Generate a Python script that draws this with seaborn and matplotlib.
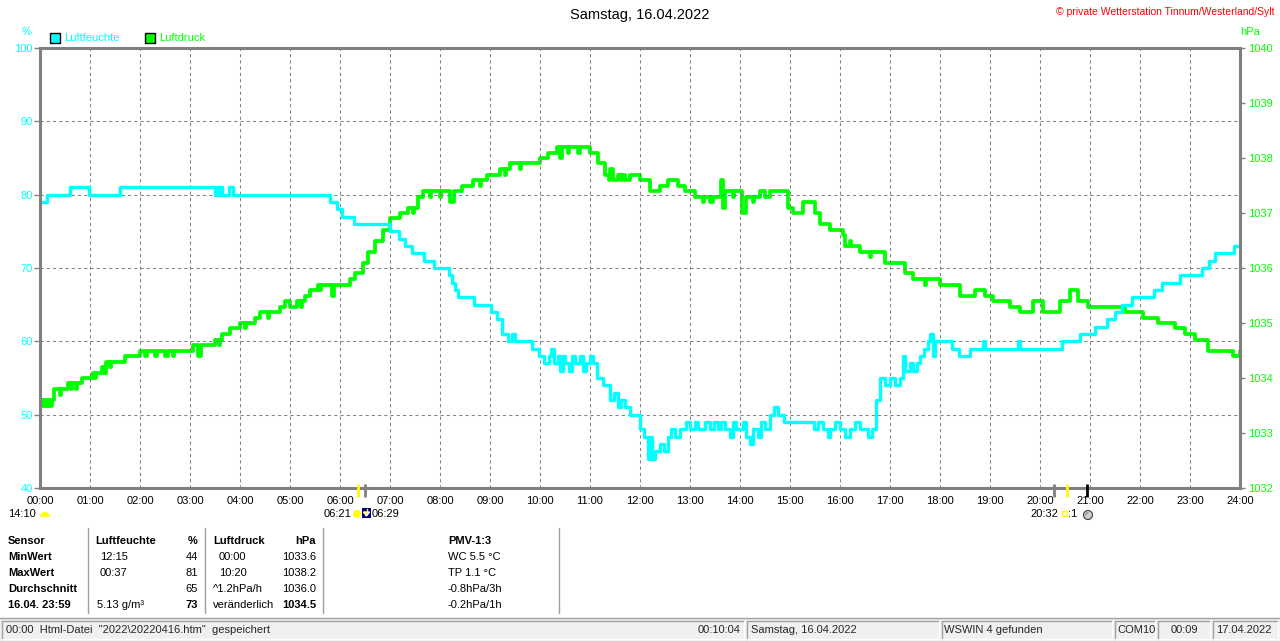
import numpy as np
import pandas as pd
import matplotlib
matplotlib.use("Agg")
import matplotlib.pyplot as plt
import matplotlib.patches as mpatches
import seaborn as sns

# ---------------- data ----------------
hour_ticks = list(range(0, 25))
hour_labels = [f"{h:02d}:00" for h in hour_ticks]
hum_ticks = [40, 50, 60, 70, 80, 90, 100]
pres_ticks = [1032, 1033, 1034, 1035, 1036, 1037, 1038, 1039, 1040]

# Luftfeuchte (%), time in hours
hum_t = [0.00, 0.13, 0.60, 0.97, 1.60, 3.50, 3.53, 3.57, 3.60, 3.63, 3.77, 3.85,
         5.80, 5.93, 6.03, 6.27, 7.00, 7.17, 7.30, 7.43, 7.67, 7.87, 8.17, 8.23,
         8.30, 8.37, 8.67, 9.03, 9.13, 9.23, 9.37, 9.43, 9.50, 9.83, 9.97, 10.07,
         10.17, 10.22, 10.27, 10.35, 10.40, 10.45, 10.50, 10.58, 10.63, 10.70, 10.80,
         10.85, 10.92, 11.00, 11.05, 11.13, 11.26, 11.40, 11.48, 11.55, 11.62, 11.70,
         11.80, 12.00, 12.08, 12.15, 12.20, 12.24, 12.30, 12.40, 12.48, 12.55, 12.62,
         12.70, 12.80, 12.92, 13.00, 13.10, 13.15, 13.30, 13.40, 13.48, 13.55, 13.62,
         13.70, 13.80, 13.85, 13.92, 14.05, 14.12, 14.20, 14.26, 14.35, 14.42, 14.50,
         14.60, 14.68, 14.75, 14.87, 15.47, 15.55, 15.65, 15.75, 15.80, 15.90, 16.00,
         16.10, 16.20, 16.30, 16.40, 16.55, 16.65, 16.72, 16.80, 16.90, 17.00, 17.10,
         17.20, 17.25, 17.30, 17.40, 17.45, 17.53, 17.60, 17.68, 17.75, 17.80, 17.85,
         17.90, 18.23, 18.37, 18.60, 18.85, 18.90, 19.55, 19.60, 20.43, 20.80, 21.10,
         21.33, 21.50, 21.63, 21.83, 22.27, 22.43, 22.80, 23.23, 23.37, 23.50, 23.87,
         23.99]
hum_v = [79, 80, 81, 80, 81, 80, 81, 80, 81, 80, 81, 80,
         79, 78, 77, 76, 75, 74, 73, 72, 71, 70, 69, 68,
         67, 66, 65, 64, 63, 61, 60, 61, 60, 59, 58, 57,
         58, 59, 57, 58, 56, 58, 57, 56, 58, 57, 58,
         56, 57, 58, 57, 55, 54, 52, 53, 51, 52, 51,
         50, 48, 47, 44, 47, 44, 45, 46, 45, 47, 48,
         47, 48, 49, 48, 49, 48, 49, 48, 49, 48, 49,
         48, 47, 49, 48, 49, 47, 46, 48, 47, 49, 48,
         50, 51, 50, 49, 48, 49, 48, 47, 48, 49, 48,
         47, 48, 49, 48, 47, 48, 52, 55, 54, 55, 54,
         55, 58, 56, 57, 56, 57, 58, 59, 60, 61, 58,
         60, 59, 58, 59, 60, 59, 60, 59, 60, 61, 62,
         63, 64, 65, 66, 67, 68, 69, 70, 71, 72, 73,
         73]

# Luftdruck (hPa), time in hours
pres_t = [0.00, 0.06, 0.08, 0.12, 0.16, 0.20, 0.24, 0.28, 0.40, 0.42, 0.55, 0.62,
          0.64, 0.72, 0.74, 0.84, 1.05, 1.10, 1.12, 1.24, 1.28, 1.32, 1.40, 1.42,
          1.70, 2.00, 2.10, 2.14, 2.30, 2.33, 2.50, 2.56, 2.66, 2.68, 3.06, 3.16,
          3.22, 3.50, 3.58, 3.60, 3.64, 3.80, 4.00, 4.10, 4.12, 4.30, 4.40, 4.55,
          4.57, 4.80, 4.90, 5.00, 5.14, 5.22, 5.24, 5.30, 5.40, 5.56, 5.60, 5.62,
          5.84, 5.88, 6.20, 6.30, 6.45, 6.55, 6.70, 6.85, 7.00, 7.20, 7.35, 7.45,
          7.47, 7.55, 7.65, 7.80, 7.82, 8.00, 8.02, 8.20, 8.28, 8.45, 8.65, 8.80,
          8.82, 8.95, 9.20, 9.30, 9.32, 9.40, 9.60, 9.62, 10.00, 10.15, 10.33, 10.40,
          10.43, 10.55, 10.57, 10.75, 10.80, 11.00, 11.15, 11.30, 11.38, 11.40, 11.45,
          11.55, 11.62, 11.64, 11.70, 11.80, 12.00, 12.20, 12.40, 12.55, 12.75, 12.90,
          13.10, 13.25, 13.27, 13.40, 13.45, 13.62, 13.66, 13.70, 13.85, 13.87, 14.04,
          14.12, 14.25, 14.27, 14.40, 14.50, 14.60, 14.95, 15.05, 15.25, 15.50, 15.60,
          15.80, 16.05, 16.10, 16.20, 16.22, 16.40, 16.60, 16.62, 16.90, 17.30, 17.45,
          17.70, 17.72, 18.00, 18.40, 18.70, 18.90, 19.05, 19.40, 19.60, 19.85, 20.05,
          20.40, 20.60, 20.75, 20.95, 21.70, 22.05, 22.35, 22.70, 22.90, 23.10, 23.35,
          23.85, 23.99]
pres_v = [1033.6, 1033.5, 1033.6, 1033.5, 1033.6, 1033.5, 1033.6, 1033.8, 1033.7, 1033.8, 1033.9, 1033.8,
          1033.9, 1033.8, 1033.9, 1034.0, 1034.1, 1034.0, 1034.1, 1034.2, 1034.1, 1034.3, 1034.2, 1034.3,
          1034.4, 1034.5, 1034.4, 1034.5, 1034.4, 1034.5, 1034.4, 1034.5, 1034.4, 1034.5, 1034.6, 1034.4,
          1034.6, 1034.7, 1034.6, 1034.7, 1034.8, 1034.9, 1035.0, 1034.9, 1035.0, 1035.1, 1035.2, 1035.1,
          1035.2, 1035.3, 1035.4, 1035.3, 1035.4, 1035.3, 1035.4, 1035.5, 1035.6, 1035.7, 1035.6, 1035.7,
          1035.5, 1035.7, 1035.8, 1035.9, 1036.1, 1036.3, 1036.5, 1036.7, 1036.9, 1037.0, 1037.1, 1037.0,
          1037.1, 1037.3, 1037.4, 1037.3, 1037.4, 1037.3, 1037.4, 1037.2, 1037.4, 1037.5, 1037.6, 1037.5,
          1037.6, 1037.7, 1037.8, 1037.7, 1037.8, 1037.9, 1037.8, 1037.9, 1038.0, 1038.1, 1038.2, 1038.0,
          1038.2, 1038.1, 1038.2, 1038.1, 1038.2, 1038.1, 1037.9, 1037.7, 1037.6, 1037.8, 1037.6,
          1037.7, 1037.6, 1037.7, 1037.6, 1037.7, 1037.6, 1037.4, 1037.5, 1037.6, 1037.5, 1037.4,
          1037.3, 1037.2, 1037.3, 1037.2, 1037.3, 1037.6, 1037.1, 1037.4, 1037.3, 1037.4, 1037.0,
          1037.3, 1037.2, 1037.3, 1037.4, 1037.3, 1037.4, 1037.1, 1037.0, 1037.2, 1037.0, 1036.8,
          1036.7, 1036.6, 1036.4, 1036.5, 1036.4, 1036.3, 1036.2, 1036.3, 1036.1, 1035.9, 1035.8,
          1035.7, 1035.8, 1035.7, 1035.5, 1035.6, 1035.5, 1035.4, 1035.3, 1035.2, 1035.4, 1035.2,
          1035.4, 1035.6, 1035.4, 1035.3, 1035.2, 1035.1, 1035.0, 1034.9, 1034.8, 1034.7, 1034.5,
          1034.4, 1034.5]

title = "Samstag, 16.04.2022"
copyright_txt = "\u00a9 private Wetterstation Tinnum/Westerland/Sylt"
series_names = ["Luftfeuchte", "Luftdruck"]

table_rows = [
    ["Sensor", "Luftfeuchte", "%", "Luftdruck", "hPa", "PMV-1:3"],
    ["MinWert", "12:15", "44", "00:00", "1033.6", "WC 5.5 \u00b0C"],
    ["MaxWert", "00:37", "81", "10:20", "1038.2", "TP 1.1 \u00b0C"],
    ["Durchschnitt", "", "65", "^1.2hPa/h", "1036.0", "-0.8hPa/3h"],
    ["16.04. 23:59", "5.13 g/m\u00b3", "73", "ver\u00e4nderlich", "1034.5", "-0.2hPa/1h"],
]
status_texts = ["00:00  Html-Datei  \"2022\\20220416.htm\"  gespeichert", "00:10:04",
                "Samstag, 16.04.2022", "WSWIN 4 gefunden", "COM10", "00:09", "17.04.2022"]

# ---------------- style ----------------
sns.set_theme(style="white")
plt.rcParams['font.family'] = ['Liberation Sans', 'DejaVu Sans']
CYAN = "#00FFFF"
GREEN = "#00FF00"
GRAY = "#808080"
FS = 8

W, H = 1280, 641
fig = plt.figure(figsize=(W / 100, H / 100), dpi=100)
fig.patch.set_facecolor("white")

L, R, T, B = 40, 1240, 48, 488
ax = fig.add_axes([L / W, 1 - B / H, (R - L) / W, (B - T) / H])
ax2 = ax.twinx()

df_h = pd.DataFrame({"t": hum_t, "v": hum_v})
df_p = pd.DataFrame({"t": pres_t, "v": pres_v})

sns.lineplot(data=df_p, x="t", y="v", ax=ax2, color=GREEN, lw=2.7,
             drawstyle="steps-post", estimator=None, sort=False)
sns.lineplot(data=df_h, x="t", y="v", ax=ax, color=CYAN, lw=2.4,
             drawstyle="steps-post", estimator=None, sort=False)

ax.set_zorder(ax2.get_zorder() + 1)
ax.patch.set_visible(False)

ax.set_xlim(0, 24)
ax.set_ylim(40, 100)
ax2.set_ylim(1032, 1040)
ax.set_xticks(hour_ticks)
ax.set_xticklabels(hour_labels)
ax.set_yticks(hum_ticks)
ax.set_yticklabels([str(v) for v in hum_ticks])
ax2.set_yticks(pres_ticks)
ax2.set_yticklabels([str(v) for v in pres_ticks])
ax.set_xlabel("")
ax.set_ylabel("")
ax2.set_ylabel("")

ax.grid(True, color=GRAY, lw=0.75, linestyle=(0, (3, 3)))
ax2.grid(False)

for s in ax.spines.values():
    s.set_color(GRAY)
    s.set_linewidth(2.2)
    s.set_visible(True)
for s in ax2.spines.values():
    s.set_visible(False)

ax.tick_params(axis="x", length=0, pad=5.5, labelsize=FS, labelcolor="black")
ax.tick_params(axis="y", left=True, length=4, width=1, color=GRAY, pad=1,
               labelsize=FS, labelcolor=CYAN)
ax2.tick_params(axis="y", right=True, length=3.5, width=1, color=GRAY, pad=2,
                labelsize=FS, labelcolor=GREEN)

# ---------------- overlay (pixel coordinates) ----------------
ov = fig.add_axes([0, 0, 1, 1], zorder=20)
ov.set_xlim(0, W)
ov.set_ylim(H, 0)
ov.axis("off")
ov.patch.set_visible(False)

ov.text(640, 15, title, ha="center", va="center", fontsize=10.5, color="black")
ov.text(1275, 12, copyright_txt, ha="right", va="center", fontsize=7.5, color="red")
ov.text(27, 32, "%", ha="center", va="center", fontsize=FS, color=CYAN)
ov.text(1250, 32, "hPa", ha="center", va="center", fontsize=FS, color=GREEN)

# legend
ov.add_patch(mpatches.Rectangle((50, 33), 10, 10, facecolor=CYAN, edgecolor="black", lw=1))
ov.text(64, 38, series_names[0], ha="left", va="center", fontsize=FS, color=CYAN)
ov.add_patch(mpatches.Rectangle((145, 33), 10, 10, facecolor=GREEN, edgecolor="black", lw=1))
ov.text(159, 38, series_names[1], ha="left", va="center", fontsize=FS, color=GREEN)

# sun / moon markers on axis
for x, c in [(358, "#FFFF00"), (365, GRAY), (1054, GRAY), (1067, "#FFFF00"), (1087, "black")]:
    ov.plot([x, x], [484, 497], color=c, lw=2.0, solid_capstyle="butt")

ov.text(36, 514, "14:10", ha="right", va="center", fontsize=FS, color="black")
ov.add_patch(mpatches.Wedge((45, 517), 5, 180, 360, facecolor="#FFFF00", edgecolor="none"))
ov.text(351, 514, "06:21", ha="right", va="center", fontsize=FS, color="black")
ov.add_patch(mpatches.Circle((357, 514), 4, facecolor="#FFFF00", edgecolor="none"))
ov.add_patch(mpatches.Rectangle((362, 508), 9, 10, facecolor="#000080", edgecolor="none"))
ov.add_patch(mpatches.Polygon([(363.5, 512), (369.5, 512), (366.5, 516)], facecolor="#FFFF00"))
ov.plot([366.5, 366.5], [508.5, 512], color="#FFFF00", lw=1)
ov.text(372, 514, "06:29", ha="left", va="center", fontsize=FS, color="black")
ov.text(1058, 514, "20:32", ha="right", va="center", fontsize=FS, color="black")
ov.add_patch(mpatches.Rectangle((1062, 511), 5, 5, facecolor="none", edgecolor="#FFFF00", lw=1))
ov.text(1068, 514, ":1", ha="left", va="center", fontsize=FS, color="black")
ov.add_patch(mpatches.Circle((1088, 515), 4.5, facecolor="#D0D0D0", edgecolor="#404040",
                             lw=0.8))
ov.add_patch(mpatches.Circle((1088, 515), 3.2, facecolor="none", edgecolor="#909090",
                             lw=0, hatch="////"))

# table
row_y = [541, 557, 573, 589, 605]
col_x = [8, 97, 198, 213, 316, 448]
col_ha = ["left", "left", "right", "left", "right", "left"]
for i, row in enumerate(table_rows):
    for j, txt in enumerate(row):
        bold = (j == 0) or (i == 0) or (i == 4 and j in (2, 4))
        x = col_x[j]
        if i == 0 and j == 1:
            x = 95
        if i in (1, 2) and j == 1:
            x = 100
        if i in (1, 2) and j == 3:
            x = 219
        ov.text(x, row_y[i], txt, ha=col_ha[j], va="center", fontsize=FS,
                color="black", fontweight="bold" if bold else "normal")
for x in [88, 205, 323, 559]:
    ov.plot([x, x], [528, 613], color="#A0A0A0", lw=1)

# status bar
ov.add_patch(mpatches.Rectangle((0, 618), W, H - 618, facecolor="#F0F0F0", edgecolor="none"))
ov.plot([0, W], [618, 618], color="#A0A0A0", lw=1)
panels = [(2, 744), (747, 939), (942, 1112), (1115, 1155), (1158, 1210), (1213, 1278)]
for x0, x1 in panels:
    ov.plot([x0, x1], [621, 621], color="#A0A0A0", lw=1)
    ov.plot([x0, x0], [621, 639], color="#A0A0A0", lw=1)
    ov.plot([x0, x1], [639, 639], color="white", lw=1)
    ov.plot([x1, x1], [621, 639], color="white", lw=1)
sy = 630
ov.text(6, sy, status_texts[0], ha="left", va="center", fontsize=FS)
ov.text(741, sy, status_texts[1], ha="right", va="center", fontsize=FS)
ov.text(751, sy, status_texts[2], ha="left", va="center", fontsize=FS)
ov.text(944, sy, status_texts[3], ha="left", va="center", fontsize=FS)
ov.text(1117, sy, status_texts[4], ha="left", va="center", fontsize=FS)
ov.text(1184, sy, status_texts[5], ha="center", va="center", fontsize=FS)
ov.text(1216, sy, status_texts[6], ha="left", va="center", fontsize=FS)

fig.savefig("out.png", dpi=100, facecolor="white")
